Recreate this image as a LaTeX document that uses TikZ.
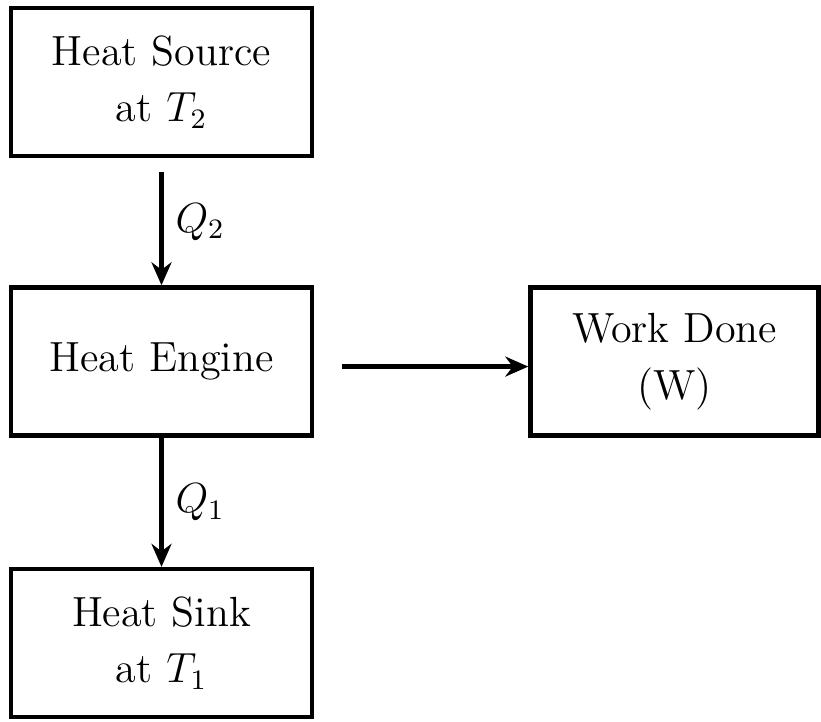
\documentclass[tikz,border=0pt]{standalone}
\usepackage{amsmath}
\usepackage{amssymb}
\usepackage{xcolor}
\usepackage{tikz}
\usetikzlibrary{positioning,arrows.meta}

\tikzset{
    block/.style={draw, rectangle, black, line width=1.3pt, minimum width=3.01cm, minimum height=1.48cm, align=center, font=\large},
    flow/.style={line width=1.3pt, -{Stealth[length=2.3mm,width=2mm]}}
}

\begin{document}
\begin{tikzpicture}
    \useasboundingbox (0,0) rectangle (8.21,-7.21);
    \node[block] (source) at (1.615,-0.82) {Heat Source\\[2pt] at $T_2$};
    \node[block, below=1.27cm of source] (engine) {Heat Engine};
    \node[block, below=1.29cm of engine] (sink) {Heat Sink\\[2pt] at $T_1$};
    \node[block, right=2.14cm of engine, minimum width=2.88cm] (work) {Work Done\\[2pt] (W)};
    % heat flow and work output
    \draw[flow, shorten <=0.14cm] (source) -- node[right, font=\large] {$Q_2$} (engine);
    \draw[flow] (engine) -- node[right, font=\large] {$Q_1$} (sink);
    \draw[flow, shorten <=0.28cm] ([yshift=-0.05cm]engine.east) -- ([yshift=-0.05cm]work.west);
\end{tikzpicture}
\end{document}
